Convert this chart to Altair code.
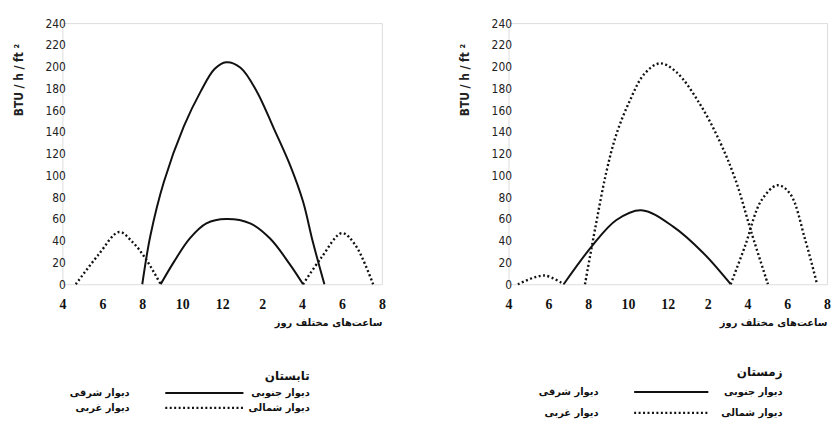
import altair as alt
import pandas as pd

# ---- data (hours as 24h clock, values in BTU/h/ft2) ----
sum_a_h = [8.0, 8.41, 9.08, 10.08, 10.92, 11.63, 12.2, 12.92, 13.74, 14.59, 15.41, 16.05, 16.54, 17.12]
sum_a_v = [0, 45, 94, 145, 177, 198, 204, 199, 177, 143, 109, 76, 39, 0]
sum_b_h = [8.92, 9.6, 10.37, 11.21, 12.2, 13.4, 14.4, 15.4, 16.05]
sum_b_v = [0, 21, 42, 56, 60, 56, 42, 18, 0]
sum_c_h = [4.67, 5.8, 6.84, 7.5, 8.15, 8.92]
sum_c_v = [0, 27, 48, 39, 24, 0]
sum_d_h = [16.05, 16.95, 18.0, 18.67, 19.56]
sum_d_v = [0, 24, 47, 36, 0]

win_a_h = [6.77, 8.19, 9.42, 10.67, 12.27, 13.77, 15.16]
win_a_v = [0, 35, 59, 68, 53, 29, 0]
win_b_h = [4.47, 5.8, 6.77]
win_b_v = [0, 8, 0]
win_c_h = [7.84, 8.37, 8.9, 9.42, 10.1, 10.81, 11.59, 12.43, 13.6, 14.59, 15.4, 16.21, 17.03]
win_c_v = [0, 53, 102, 138, 169, 193, 203, 195, 166, 132, 96, 47, 0]
win_d_h = [15.16, 15.88, 16.7, 17.51, 18.15, 18.9, 19.5]
win_d_v = [0, 35, 77, 91, 83, 41, 0]

x_ticks = [4, 6, 8, 10, 12, 14, 16, 18, 20]
y_ticks = [0, 20, 40, 60, 80, 100, 120, 140, 160, 180, 200, 220, 240]

y_title = "BTU / h / ft ²"
x_title = "ساعت‌های مختلف روز"
season_titles = ["تابستان", "زمستان"]
lbl_solid_r = "دیوار جنوبی"
lbl_solid_l = "دیوار شرقی"
lbl_dot_r = "دیوار شمالی"
lbl_dot_l = "دیوار غربی"


def frame(curves):
    rows = []
    for name, style, hs, vs in curves:
        for h, v in zip(hs, vs):
            rows.append({"curve": name, "style": style, "hour": h, "value": v})
    return pd.DataFrame(rows)


summer = frame([
    ("a", "solid", sum_a_h, sum_a_v),
    ("b", "solid", sum_b_h, sum_b_v),
    ("c", "dotted", sum_c_h, sum_c_v),
    ("d", "dotted", sum_d_h, sum_d_v),
])
winter = frame([
    ("a", "solid", win_a_h, win_a_v),
    ("b", "dotted", win_b_h, win_b_v),
    ("c", "dotted", win_c_h, win_c_v),
    ("d", "dotted", win_d_h, win_d_v),
])

NARROW = "Liberation Sans Narrow, DejaVu Sans Condensed, Liberation Sans"
AR = "DejaVu Sans"

x_enc = alt.X("hour:Q", scale=alt.Scale(domain=[4, 20], nice=False),
              axis=alt.Axis(values=x_ticks, ticks=False, domain=False, grid=False,
                            labelExpr="datum.value > 12 ? datum.value - 12 : datum.value",
                            labelFont="Liberation Serif", labelFontWeight="bold",
                            labelFontSize=14, labelColor="#111", labelPadding=14,
                            labelFlush=False, title=x_title, titleAnchor="end",
                            titleFont=AR, titleFontSize=10, titleFontWeight="bold",
                            titleColor="#111", titlePadding=6))
y_enc = alt.Y("value:Q", scale=alt.Scale(domain=[0, 240], nice=False),
              axis=alt.Axis(values=y_ticks, ticks=False, domain=False, grid=False,
                            offset=-3,
                            labelFont=NARROW, labelFontSize=12, labelColor="#222",
                            labelPadding=0, title=y_title, titleY=57,
                            titleFont=NARROW, titleFontSize=12, titleFontWeight="bold",
                            titleColor="#222", titlePadding=20))


def txt(label, x, y, size=10, align="right"):
    return alt.Chart(pd.DataFrame({"t": [label]})).mark_text(
        font=AR, fontSize=size, fontWeight="bold", align=align, baseline="middle",
        color="#111").encode(x=alt.value(x), y=alt.value(y), text="t:N")


def rule(x1, x2, y, dotted):
    kw = dict(color="#111", strokeWidth=2 if not dotted else 2.2)
    if dotted:
        kw["strokeDash"] = [2, 2.5]
    return alt.Chart(pd.DataFrame({"k": [0]})).mark_rule(**kw).encode(
        x=alt.value(x1), x2=alt.value(x2), y=alt.value(y))


def panel(df, title, lg, w):
    base = alt.Chart(df)
    solid = base.transform_filter(alt.datum.style == "solid").mark_line(
        color="#111", strokeWidth=2, interpolate="catmull-rom").encode(
        x=x_enc, y=y_enc, detail="curve:N")
    dotted = base.transform_filter(alt.datum.style == "dotted").mark_line(
        color="#111", strokeWidth=2.4, strokeDash=[2, 2.5], interpolate="catmull-rom").encode(
        x=x_enc, y=y_enc, detail="curve:N")
    tr, ty, r1, r2, lx1, lx2, ll = lg
    layers = [
        solid, dotted,
        txt(title, tr, ty, size=12),
        txt(lbl_solid_r, tr, r1), rule(lx1, lx2, r1, False), txt(lbl_solid_l, ll, r1),
        txt(lbl_dot_r, tr, r2), rule(lx1, lx2, r2, True), txt(lbl_dot_l, ll, r2),
    ]
    return alt.layer(*layers).properties(width=w, height=264)


left = panel(summer, season_titles[0], (250, 357, 374, 389, 104, 183, 68), 323)
right = panel(winter, season_titles[1], (277, 353, 373, 394, 127, 202, 91), 322)

chart = alt.hconcat(left, right, spacing=72).properties(
    padding={"left": 3, "top": 6, "right": 0, "bottom": 0}
).configure_view(stroke=None).configure(background="white")

chart.save("out.html", embed_options={"renderer": "svg", "actions": False})
